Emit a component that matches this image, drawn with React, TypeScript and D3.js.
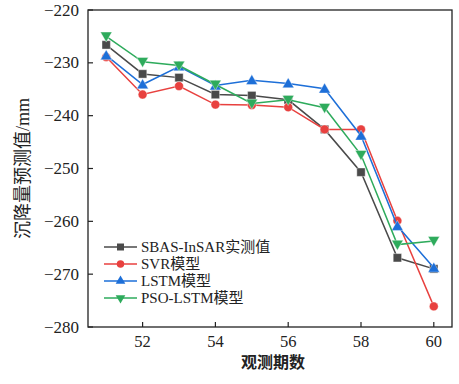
import React from "react";
import * as d3 from "d3";

const periods = [51, 52, 53, 54, 55, 56, 57, 58, 59, 60];
const sbas = [-226.6, -232.1, -232.8, -236.0, -236.2, -237.0, -242.6, -250.7, -266.9, -269.0];
const svr = [-228.9, -236.0, -234.4, -237.9, -238.0, -238.4, -242.6, -242.6, -259.9, -276.1];
const lstm = [-228.6, -234.1, -230.7, -234.3, -233.3, -233.9, -234.9, -243.8, -260.9, -268.8];
const psoLstm = [-225.0, -229.8, -230.5, -234.1, -237.7, -237.0, -238.5, -247.4, -264.4, -263.7];

const seriesNames = ["SBAS-InSAR实测值", "SVR模型", "LSTM模型", "PSO-LSTM模型"];
const xTicks = [52, 54, 56, 58, 60];
const yTicks = [-220, -230, -240, -250, -260, -270, -280];

const W = 459, H = 384;
const M = { left: 88, right: 452, top: 10, bottom: 327 };
const FONT = "'Liberation Serif', 'DejaVu Serif', serif";
const CJK = "'Noto Sans CJK SC', 'Noto Sans', sans-serif";

export default function App() {
  const x = d3.scaleLinear().domain([50.5, 60.5]).range([M.left, M.right]);
  const y = d3.scaleLinear().domain([-280, -220]).range([M.bottom, M.top]);
  const line = d3.line<number>().x((_, i) => x(periods[i])).y((d) => y(d));

  const series = [
    { name: seriesNames[0], data: sbas, color: "#4a4a4a", sym: d3.symbolSquare, size: 70, rot: 0 },
    { name: seriesNames[1], data: svr, color: "#e8413f", sym: d3.symbolCircle, size: 62, rot: 0 },
    { name: seriesNames[2], data: lstm, color: "#1d6fd8", sym: d3.symbolTriangle, size: 58, rot: 0 },
    { name: seriesNames[3], data: psoLstm, color: "#2eab5c", sym: d3.symbolTriangle, size: 58, rot: 180 },
  ];

  const legendX = 104, legendY0 = 247, legendDy = 17;

  return (
    <svg width={W} height={H} style={{ position: "absolute", left: 0, top: 0 }}>
      <rect x={0} y={0} width={W} height={H} fill="#fff" />
      {/* ticks */}
      {xTicks.map((t) => (
        <g key={"x" + t}>
          <line x1={x(t)} x2={x(t)} y1={M.bottom} y2={M.bottom - 5} stroke="#222" strokeWidth={1.2} />
          <text x={x(t)} y={347} textAnchor="middle" fontFamily={FONT} fontSize={16.5} fill="#222">{t}</text>
        </g>
      ))}
      {yTicks.map((t) => (
        <g key={"y" + t}>
          <line x1={M.left} x2={M.left + 5} y1={y(t)} y2={y(t)} stroke="#222" strokeWidth={1.2} />
          <text x={79} y={y(t) + 5.5} textAnchor="end" fontFamily={FONT} fontSize={17} fill="#222">{"\u2212" + Math.abs(t)}</text>
        </g>
      ))}
      {series.map((s) => (
        <g key={s.name}>
          <path d={line(s.data) || ""} fill="none" stroke={s.color} strokeWidth={1.5} />
          {s.data.map((v, i) => (
            <path
              key={i}
              d={d3.symbol().type(s.sym).size(s.size)() || ""}
              transform={`translate(${x(periods[i])},${y(v) + (s.sym === d3.symbolTriangle ? (s.rot ? -1 : 1) : 0)}) rotate(${s.rot})`}
              fill={s.color}
              stroke="#fff"
              strokeWidth={0.4}
            />
          ))}
        </g>
      ))}
      {/* frame */}
      <rect x={M.left} y={M.top} width={M.right - M.left} height={M.bottom - M.top} fill="none" stroke="#222" strokeWidth={1.3} />
      {/* legend */}
      {series.map((s, i) => {
        const ly = legendY0 + i * legendDy;
        return (
          <g key={"lg" + i}>
            <line x1={legendX} x2={legendX + 33} y1={ly} y2={ly} stroke={s.color} strokeWidth={1.5} />
            <path
              d={d3.symbol().type(s.sym).size(s.size * 0.7)() || ""}
              transform={`translate(${legendX + 16.5},${ly}) rotate(${s.rot})`}
              fill={s.color}
            />
            <text x={141} y={ly + 5} fontFamily={`${FONT.split(",")[0]}, ${CJK}`} fontSize={15} fill="#222">{s.name}</text>
          </g>
        );
      })}
      {/* axis titles */}
      <text
        transform={`translate(29,${(M.top + M.bottom) / 2}) rotate(-90)`}
        textAnchor="middle"
        fontFamily={`${FONT.split(",")[0]}, ${CJK}`}
        fontSize={18}
        fill="#222"
      >沉降量预测值/mm</text>
      <text x={273} y={368} textAnchor="middle" fontFamily={CJK} fontWeight={600} fontSize={16} fill="#222">观测期数</text>
    </svg>
  );
}
